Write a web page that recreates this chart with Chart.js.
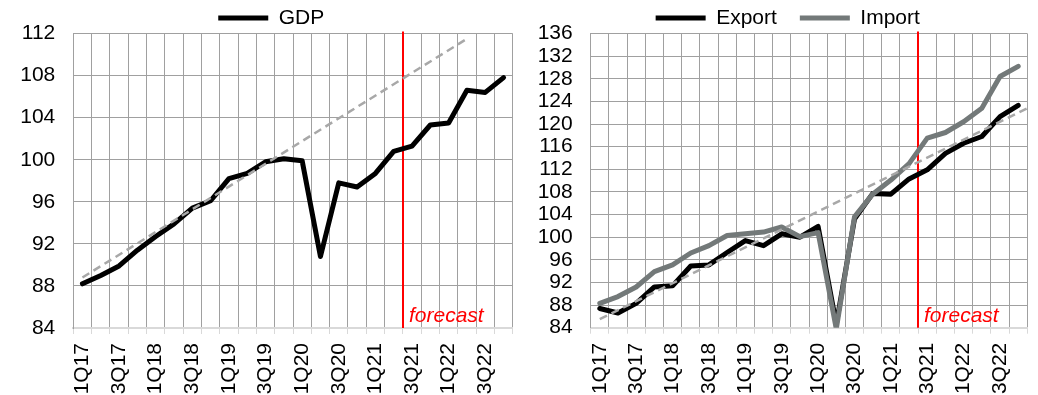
<!DOCTYPE html>
<html>
<head>
<meta charset="utf-8">
<script src="https://cdn.jsdelivr.net/npm/chart.js@4.4.1/dist/chart.umd.min.js"></script>
<style>
  html, body { margin: 0; padding: 0; background: #fff; }
  #wrap { position: relative; width: 1038px; height: 395px; }
  .panel { position: absolute; top: 0; width: 519px; height: 395px; }
  #gdpPanel { left: 0; }
  #tradePanel { left: 519px; }
</style>
</head>
<body>
<div id="wrap">
  <div class="panel" id="gdpPanel"><canvas id="gdpChart" width="519" height="395"></canvas></div>
  <div class="panel" id="tradePanel"><canvas id="tradeChart" width="519" height="395"></canvas></div>
</div>
<script>
// Quarterly index values (2017-2022)
const quarters = ['1Q17','2Q17','3Q17','4Q17','1Q18','2Q18','3Q18','4Q18',
                  '1Q19','2Q19','3Q19','4Q19','1Q20','2Q20','3Q20','4Q20',
                  '1Q21','2Q21','3Q21','4Q21','1Q22','2Q22','3Q22','4Q22'];

const gdp = [88.2, 89.0, 89.9, 91.4, 92.7, 93.9, 95.4, 96.1,
             98.2, 98.7, 99.8, 100.1, 99.9, 90.8, 97.8, 97.4,
             98.7, 100.8, 101.3, 103.3, 103.5, 106.6, 106.4, 107.8];

const exportIdx = [87.4, 86.6, 88.3, 91.2, 91.4, 94.9, 95.1, 97.3,
                   99.4, 98.5, 100.6, 100.0, 101.9, 84.6, 103.2, 107.7,
                   107.6, 110.3, 111.9, 114.8, 116.6, 117.8, 121.3, 123.3];

const importIdx = [88.3, 89.5, 91.2, 93.9, 95.1, 97.2, 98.5, 100.3,
                   100.6, 100.9, 101.8, 100.1, 100.8, 83.8, 103.6, 107.6,
                   110.1, 113.0, 117.5, 118.5, 120.4, 122.8, 128.4, 130.2];

// Pre-crisis trend lines: start and end points (x = quarter position)
const gdpTrend = [{ x: 0, y: 88.8 }, { x: 21, y: 111.5 }];
const tradeTrend = [{ x: 0, y: 85.5 }, { x: 23.5, y: 122.8 }];

const forecastStart = '3Q21';
const forecastText = 'forecast';

const gdpTicks = { min: 84, max: 112, step: 4 };
const tradeTicks = { min: 84, max: 136, step: 4 };

const FONT = '"Liberation Sans", Arial, sans-serif';
Chart.defaults.font.family = FONT;
Chart.defaults.font.size = 21;
Chart.defaults.color = '#000';

const GRID = '#a0a0a0';
const AXIS = '#d9d9d9';

// Red vertical divider where the forecast period begins, with its caption
const forecastMarker = {
  id: 'forecastMarker',
  beforeDatasetsDraw(chart, args, opts) {
    const { ctx, chartArea } = chart;
    const xs = chart.scales.x;
    const idx = chart.data.labels.indexOf(opts.from);
    if (idx < 0) return;
    const px = Math.round(xs.getPixelForValue(idx - 0.5));
    ctx.save();
    ctx.strokeStyle = '#ff0000';
    ctx.lineWidth = 2;
    ctx.beginPath();
    ctx.moveTo(px, chartArea.top - 2);
    ctx.lineTo(px, chartArea.bottom);
    ctx.stroke();
    ctx.fillStyle = '#ff0000';
    ctx.font = 'italic 21px ' + FONT;
    ctx.textAlign = 'left';
    ctx.textBaseline = 'alphabetic';
    ctx.fillText(opts.text, px + 6, chartArea.bottom - 6);
    ctx.restore();
  }
};

function buildScales(range, dims) {
  return {
    x: {
      type: 'category',
      offset: true,
      grid: { offset: true, color: GRID, lineWidth: 1, tickColor: AXIS, tickLength: 6 },
      border: { color: AXIS, width: 2 },
      ticks: {
        autoSkip: false,
        minRotation: 90,
        maxRotation: 90,
        padding: 9,
        color: '#000',
        callback(value, index) { return index % 2 === 0 ? this.getLabelForValue(value) : ''; }
      },
      afterFit(scale) {
        scale.paddingLeft = 0;
        scale.paddingRight = dims.padRight;
        scale.height = dims.xHeight;
      }
    },
    xTrend: { type: 'linear', axis: 'x', display: false, min: -0.5, max: quarters.length - 0.5 },
    y: {
      min: range.min,
      max: range.max,
      ticks: { stepSize: range.step, padding: 18, autoSkip: false, color: '#000' },
      grid: { color: c => (c.tick && c.tick.value === range.min) ? AXIS : GRID, drawTicks: false },
      border: { color: GRID },
      afterFit(scale) { scale.width = dims.yWidth; }
    }
  };
}

function lineSet(label, data, color, order) {
  return {
    label, data, order,
    xAxisID: 'x', yAxisID: 'y',
    borderColor: color, backgroundColor: color,
    borderWidth: 5, borderCapStyle: 'round', borderJoinStyle: 'round',
    pointRadius: 0, pointHoverRadius: 0, tension: 0, fill: false
  };
}

function trendSet(data) {
  return {
    label: 'trend', data, order: 0, isTrend: true,
    xAxisID: 'xTrend', yAxisID: 'y',
    borderColor: '#a8a8a8', borderWidth: 2.5, borderDash: [8, 5],
    pointRadius: 0, pointHoverRadius: 0, tension: 0, fill: false
  };
}

function legendOptions() {
  return {
    display: true,
    position: 'top',
    maxHeight: 49,
    labels: {
      usePointStyle: true,
      pointStyle: 'line',
      pointStyleWidth: 50,
      padding: 23,
      color: '#000',
      font: { size: 21 },
      filter: (item, data) => !data.datasets[item.datasetIndex].isTrend,
      sort: (a, b) => a.datasetIndex - b.datasetIndex
    }
  };
}

function baseOptions(range, pad, dims) {
  return {
    responsive: false,
    animation: false,
    devicePixelRatio: 1,
    layout: { padding: pad },
    scales: buildScales(range, dims),
    plugins: {
      legend: legendOptions(),
      tooltip: { enabled: false },
      forecastMarker: { from: forecastStart, text: forecastText }
    }
  };
}

new Chart(document.getElementById('gdpChart'), {
  type: 'line',
  data: {
    labels: quarters,
    datasets: [
      lineSet('GDP', gdp, '#000000', 1),
      trendSet(gdpTrend)
    ]
  },
  options: baseOptions(gdpTicks,
    { left: 19.3, right: -4.2, top: -15.5, bottom: 0 },
    { yWidth: 54, xHeight: 67, padRight: 6.3 }),
  plugins: [forecastMarker]
});

new Chart(document.getElementById('tradeChart'), {
  type: 'line',
  data: {
    labels: quarters,
    datasets: [
      lineSet('Export', exportIdx, '#000000', 2),
      lineSet('Import', importIdx, '#737979', 1),
      trendSet(tradeTrend)
    ]
  },
  options: baseOptions(tradeTicks,
    { left: 17.7, right: -0.8, top: -15.5, bottom: 0 },
    { yWidth: 54, xHeight: 67.3, padRight: 10.7 }),
  plugins: [forecastMarker]
});
</script>
</body>
</html>
